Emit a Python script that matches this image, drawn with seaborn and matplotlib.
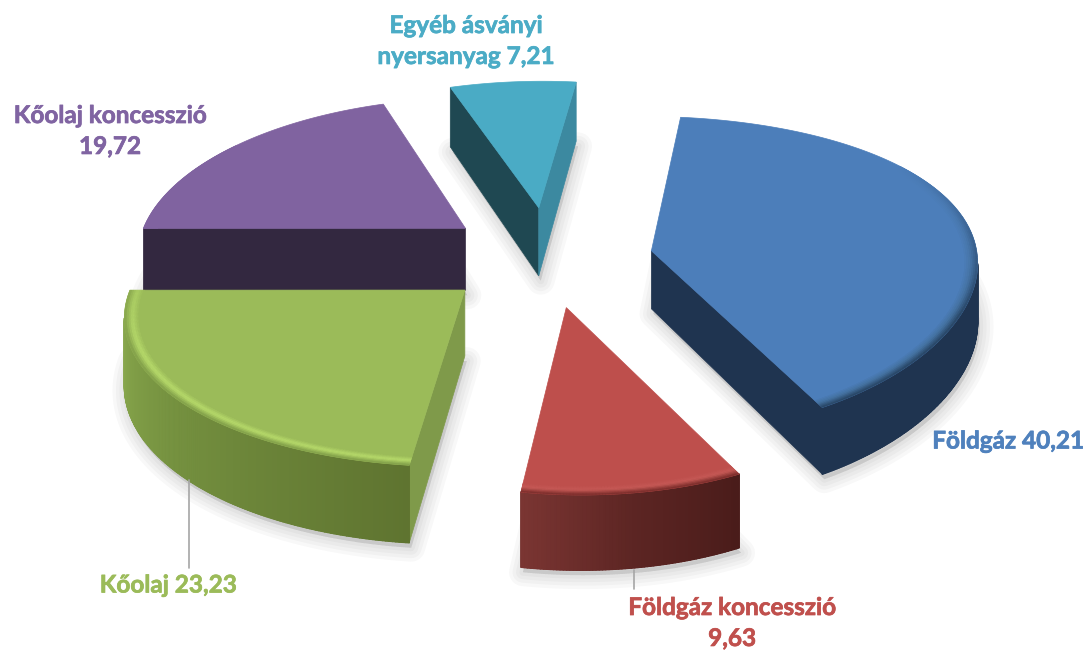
import numpy as np
import matplotlib.pyplot as plt
import matplotlib.patheffects as pe
from matplotlib.collections import PolyCollection
import seaborn as sns

# values of the pie, clockwise from the top
names = ["Földgáz 40,21", "Földgáz koncesszió\n9,63", "Kőolaj 23,23",
         "Kőolaj koncesszió\n19,72", "Egyéb ásványi\nnyersanyag 7,21"]
values = [40.21, 9.63, 23.23, 19.72, 7.21]

top_colors = ["#4C7EBA", "#BE4F4C", "#9BBB59", "#8063A0", "#4AABC5"]
text_colors = ["#4F81BD", "#C0504D", "#9BBB59", "#8064A2", "#4BACC6"]
# side wall colours, from the first edge of the slice to the last
side_colors = [["#1F3450", "#1F3450"], ["#4A1C1A", "#5C2523", "#7A3532"],
               ["#5F7430", "#74903F", "#8EAE50"], ["#332840", "#332840"],
               ["#1F4852", "#1F4852"]]
start_face = ["#1F3450", "#7A3532", "#7F9A4A", "#332840", "#1F4852"]
end_face = ["#1F3450", "#7A3532", "#7F9A4A", "#332840", "#3C89A0"]
# bevel along the rim, from inside to outside
rim_colors = [["#4C7EBA", "#44719F", "#2A4868"], ["#BE4F4C", "#C65A56", "#80302E"],
              ["#9BBB59", "#B8DC6C", "#86A44C"], ["#8063A0", "#8063A0", "#8063A0"],
              ["#4AABC5", "#4AABC5", "#4AABC5"]]

# projection of the pie
start_angle = 83.1
cx, cy = 548, 258
rx, ry = 322, 150
persp = 0.15
explode = 0.33
rim = 0.045

# small per slice corrections of the projection
persp_x = [0.05, 0.15, 0.15, 0.15, 0.15]
scale_x = [1.01, 1.0, 1.04, 1.0, 1.0]
scale_y = [1.03, 1.06, 1.0, 1.0, 0.97]
shear_x = [0.06, -0.02, -0.07, -0.08, -0.03]
shear_y = [0.0, 0.03, 0.0, 0.0, 0.0]
nudge = [(-1, 2), (-2, 1), (-4, -1), (4, -1), (2, -1)]
depths = [58, 64, 66, 62, 68]

sns.set_theme(style="white")
plt.rcParams["font.family"] = ["Lato", "DejaVu Sans"]

fig = plt.figure(figsize=(10.9, 6.55), dpi=100)
ax = fig.add_axes([0, 0, 1, 1])
ax.set_xlim(0, 1090)
ax.set_ylim(655, 0)
ax.axis("off")

# slice geometry comes from the values
sweeps = np.array(values) / np.sum(values) * 360
ends = start_angle - np.cumsum(sweeps)
starts = ends + sweeps
mids = np.radians((starts + ends) / 2)


def project(i, u, v, z=0.0):
    # each slice keeps its own perspective around its tip
    u, v = np.atleast_1d(u), np.atleast_1d(v)
    w = 1 + persp * v
    px = scale_x[i] * rx * u / (1 + persp_x[i] * v)
    py = -scale_y[i] * ry * v / w
    tip_x = cx + rx * explode * np.cos(mids[i]) + nudge[i][0]
    tip_y = cy - ry * explode * np.sin(mids[i]) + nudge[i][1]
    return np.column_stack([tip_x + px + shear_x[i] * py,
                            tip_y + py + shear_y[i] * px + depths[i] * z / w])


def area(p):
    x, y = p[:, 0], p[:, 1]
    return np.sum(x * np.roll(y, -1) - np.roll(x, -1) * y)


slices = []
for i in range(len(values)):
    t = np.radians(np.linspace(starts[i], ends[i], int(sweeps[i] * 2) + 2))
    slices.append((i, t))

# soft shadows first
for i, t in slices:
    low = project(i, np.r_[0, np.cos(t)], np.r_[0, np.sin(t)], 1.0) + [2, 5]
    for lw in [20, 15, 10, 5]:
        ax.fill(low[:, 0], low[:, 1], fc=(0, 0, 0, 0.028), ec=(0, 0, 0, 0.028),
                lw=lw, joinstyle="round", zorder=1)

# back to front
for i, t in sorted(slices, key=lambda s: -np.sin(mids[s[0]])):
    z = 2 + (1 - np.sin(mids[i]))
    tip_top = project(i, 0.0, 0.0)
    tip_low = project(i, 0.0, 0.0, 1.0)
    top = project(i, np.cos(t), np.sin(t))
    low = project(i, np.cos(t), np.sin(t), 1.0)

    # cut faces
    face = np.vstack([tip_top, top[0], low[0], tip_low])
    if area(face) < 0:
        ax.fill(face[:, 0], face[:, 1], fc=start_face[i], ec=start_face[i], lw=0.5, zorder=z)
    face = np.vstack([tip_top, top[-1], low[-1], tip_low])
    if area(face) > 0:
        ax.fill(face[:, 0], face[:, 1], fc=end_face[i], ec=end_face[i], lw=0.5, zorder=z)

    # outer wall: one base shape, then the gradient strips over it
    cmap = sns.blend_palette(side_colors[i], as_cmap=True)
    quads, cols = [], []
    for j in range(len(t) - 1):
        q = np.vstack([top[j], top[j + 1], low[j + 1], low[j]])
        if area(q) < 0:
            quads.append(q)
            cols.append(cmap(j / (len(t) - 2)))
    if quads:
        keep = np.vstack([q[:2] for q in quads] + [q[2:] for q in quads[::-1]])
        ax.fill(keep[:, 0], keep[:, 1], fc=cols[len(cols) // 2], ec=cols[len(cols) // 2],
                lw=0.5, zorder=z)
        ax.add_collection(PolyCollection(quads, facecolors=cols, edgecolors=cols,
                                         linewidths=1.0, zorder=z))

    # top face
    poly = np.vstack([tip_top, top])
    ax.fill(poly[:, 0], poly[:, 1], fc=top_colors[i], ec=top_colors[i], lw=0.5, zorder=z)

    # bevel on the part of the rim that faces the viewer
    cmap = sns.blend_palette(rim_colors[i], as_cmap=True)
    base = np.array(plt.matplotlib.colors.to_rgb(top_colors[i]))
    radii = np.linspace(1 - rim, 1, 9)
    quads, cols = [], []
    for j in range(len(t) - 1):
        s = np.clip(0.6 - np.sin(t[j]), 0, 1)
        if s == 0:
            continue
        for k in range(len(radii) - 1):
            a, b = radii[k], radii[k + 1]
            uu = np.array([a * np.cos(t[j]), a * np.cos(t[j + 1]),
                           b * np.cos(t[j + 1]), b * np.cos(t[j])])
            vv = np.array([a * np.sin(t[j]), a * np.sin(t[j + 1]),
                           b * np.sin(t[j + 1]), b * np.sin(t[j])])
            quads.append(project(i, uu, vv))
            c = np.array(cmap(k / (len(radii) - 2))[:3])
            cols.append(tuple(base + s * (c - base)))
    ax.add_collection(PolyCollection(quads, facecolors=cols, edgecolors=cols,
                                     linewidths=0.3, zorder=z))

# leader lines
ax.plot([189, 189], [480, 568], color="#A6A6A6", lw=1.2, zorder=8)
ax.plot([634, 634], [570, 589], color="#A6A6A6", lw=1.2, zorder=8)

# labels
label_pos = [(1008, 441), (732, 623), (168, 585), (110, 131), (466, 41)]
for name, c, (x, y) in zip(names, text_colors, label_pos):
    ax.text(x, y, name, color=c, fontsize=17.5, fontweight="bold", ha="center",
            va="center", linespacing=1.42, zorder=9,
            path_effects=[pe.withStroke(linewidth=0.5, foreground=c)])

fig.savefig("out.png", dpi=100)
